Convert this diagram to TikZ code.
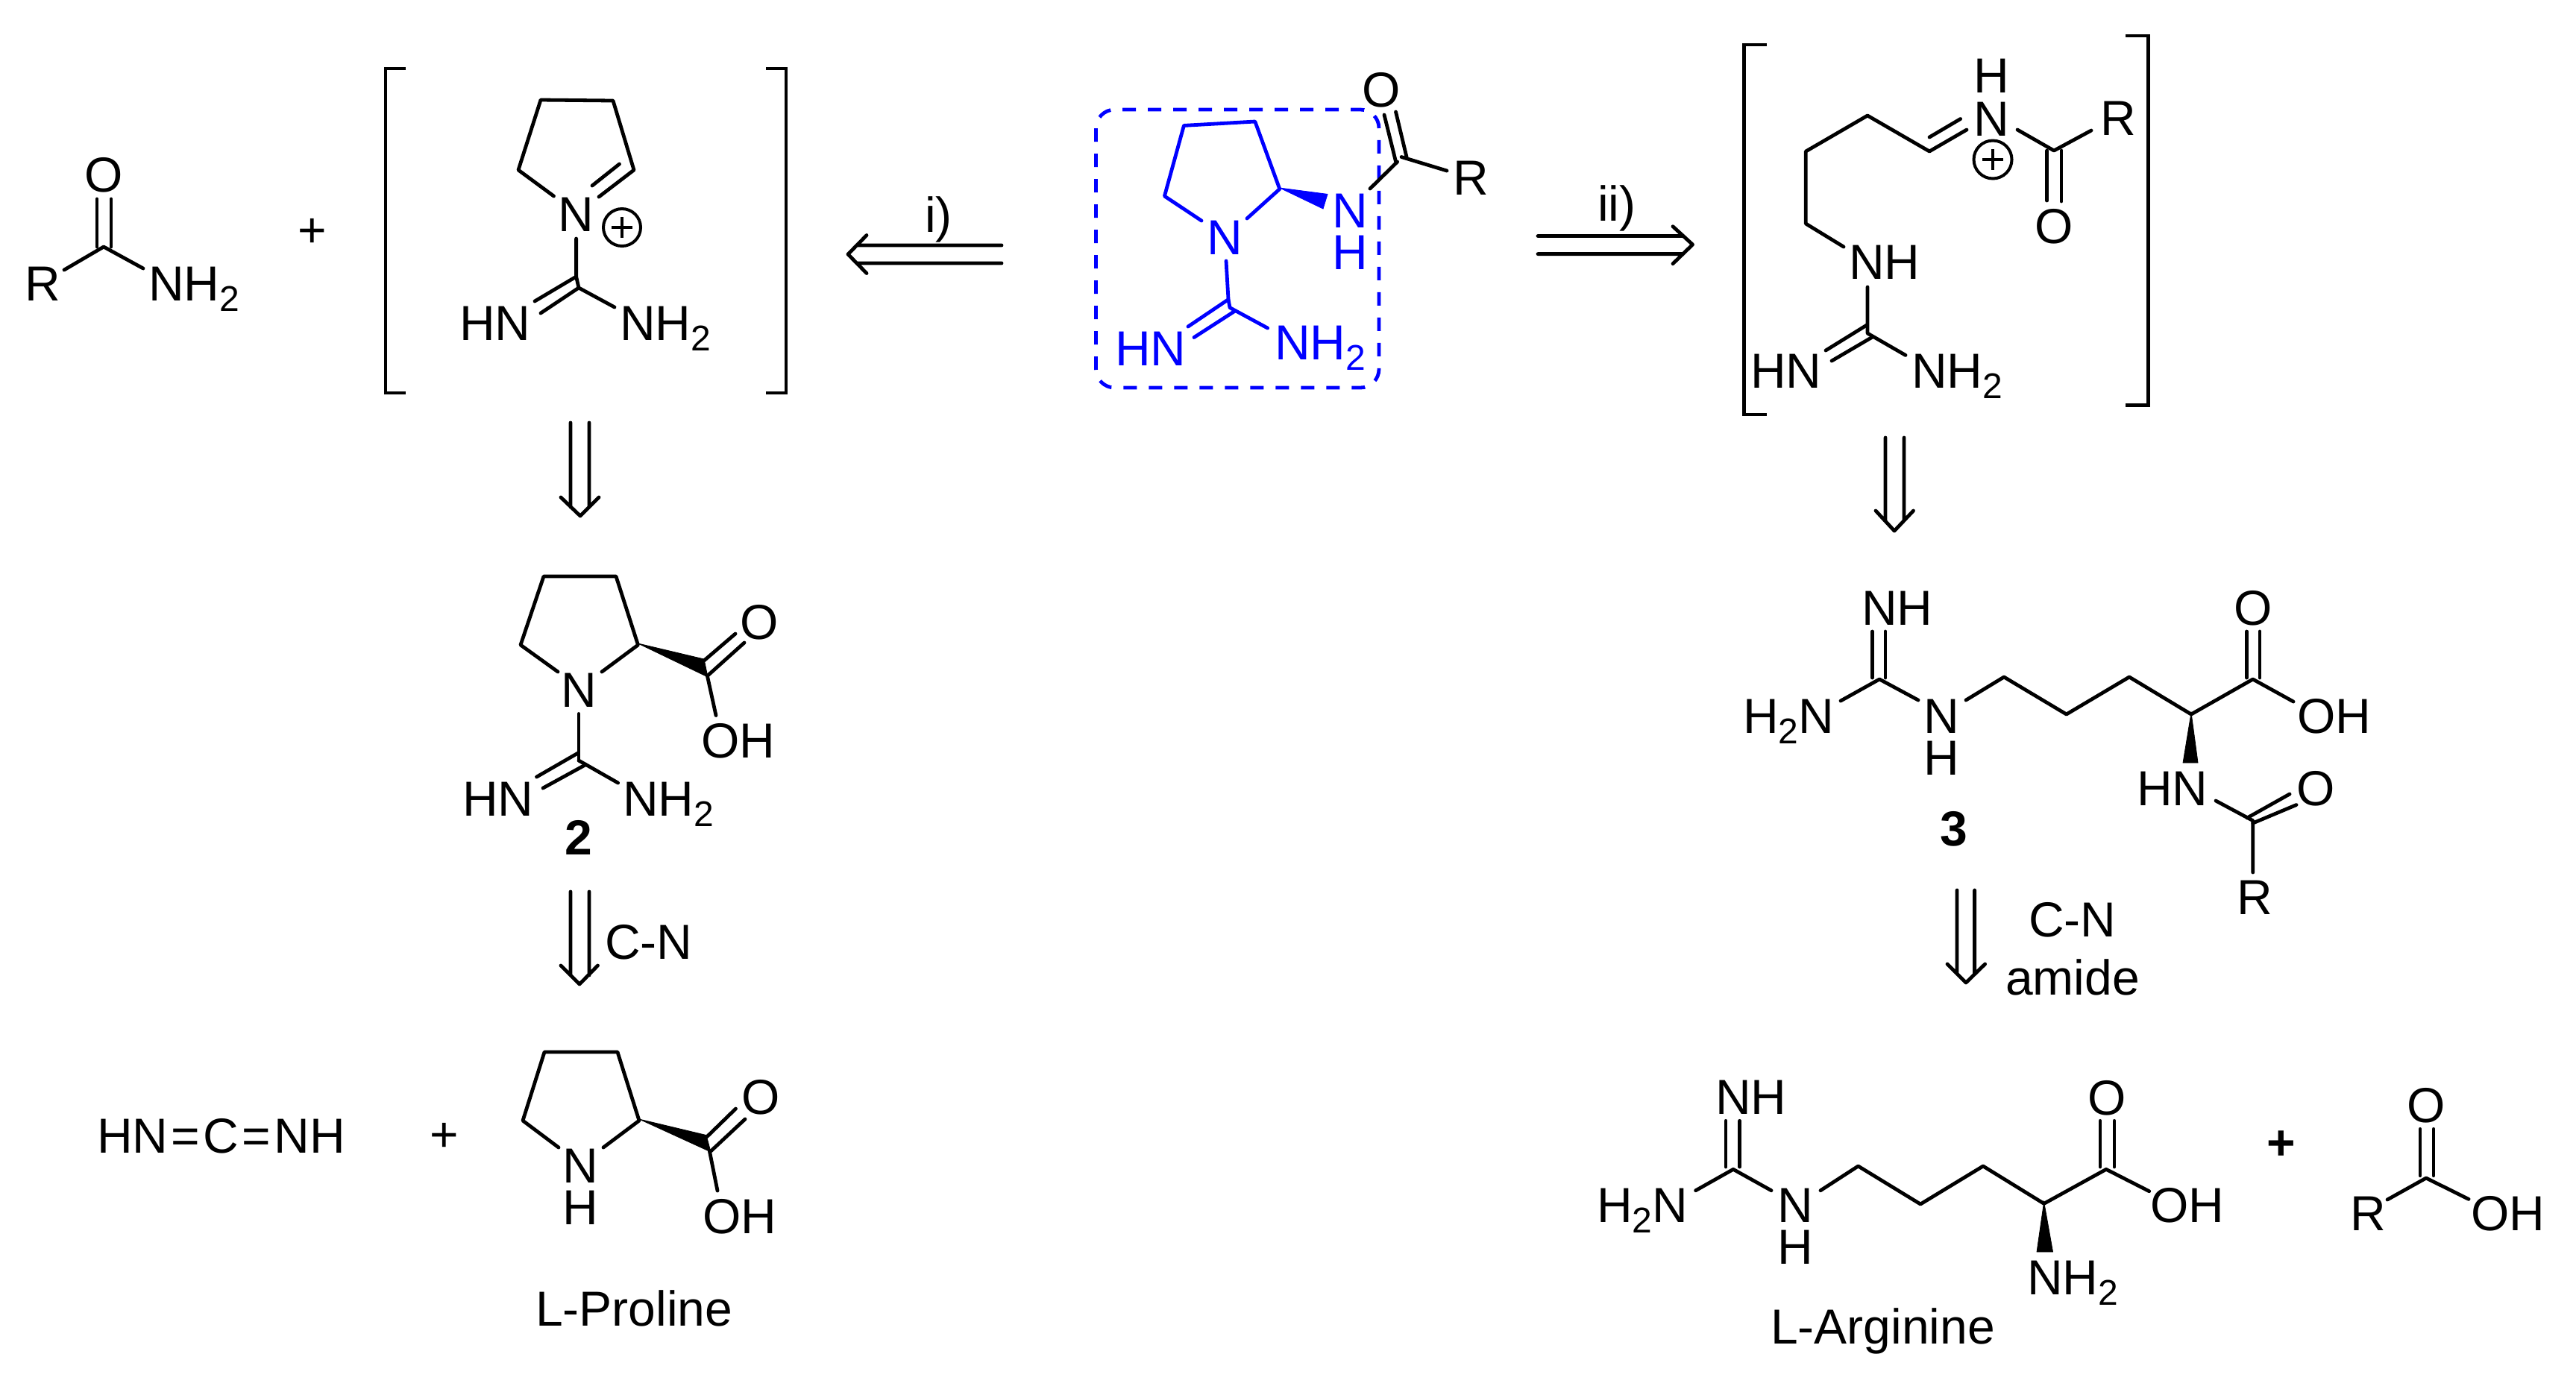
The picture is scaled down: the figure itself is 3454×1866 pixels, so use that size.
\documentclass[tikz,border=0pt]{standalone}
\usepackage{fontspec}
\setmainfont{Liberation Sans}
\newcommand{\chemsub}[1]{\raisebox{-3.6pt}{\fontsize{12}{12}\selectfont #1}}
\tikzset{
  bondline/.style={line width=1.2pt,line cap=round,line join=round},
  bondblue/.style={bondline,draw=blue},
  arrowline/.style={line width=1.2pt,line cap=round,line join=round},
  wedgeb/.style={fill=black,draw=black,line width=0.2pt},
  wedgeblue/.style={fill=blue,draw=blue,line width=0.2pt},
  chg/.style={line width=1pt},
  bracketline/.style={line width=1.2pt,line join=miter},
  tw/.style={anchor=base west,inner sep=0pt,outer sep=0pt,font=\fontsize{16.5}{18}\selectfont},
  tc/.style={anchor=base,inner sep=0pt,outer sep=0pt,font=\fontsize{16.5}{18}\selectfont},
  tcb/.style={anchor=base,inner sep=0pt,outer sep=0pt,font=\fontsize{16.5}{18}\selectfont\bfseries},
}
\begin{document}
\begin{tikzpicture}[x=0.25pt,y=-0.25pt]
\path[use as bounding box,fill=white] (0,0) rectangle (3454,1866);

% --- amide R-CO-NH2
\node[tc] (aO) at (139,257) {O};
\node[tc] (aR) at (57,403) {R};
\node[tw] (aN) at (199,403) {NH\chemsub{2}};
\draw[bondline] (130,267)--(130,331) (149,267)--(149,331);
\draw[bondline] (86,362)--(139,331)--(192,360);
\node[tc] (plusA) at (419,331) {+};

% --- bracket 1
\draw[bracketline] (544,92)--(517,92)--(517,527)--(544,527);
\draw[bracketline] (1027,92)--(1054,92)--(1054,527)--(1027,527);
\node[tc] (bN) at (772,310) {N};
\node[tw] (bHN) at (616,456) {HN};
\node[tw] (bNH) at (831,456) {NH\chemsub{2}};
\draw[bondline] (742.5,263)--(695,228)--(725,134)--(822,135)--(850,228)--(803,264);
\draw[bondline] (830.5,220)--(794,249);
\draw[chg] (834,305) circle (25);
\draw[chg] (820,305)--(848,305) (834,291)--(834,319);
\draw[bondline] (772.6,320)--(772.6,371)--(717,404);
\draw[bondline] (776,386)--(725,420);
\draw[bondline] (772.6,371)--(776,386)--(824,412);

% --- arrow down to 2
\draw[arrowline] (765,567)--(765,680) (790,567)--(790,680) (752,667)--(778,692)--(803,667);

% --- compound 2
\node[tc] (cN) at (776,948) {N};
\node[tc] (cO) at (1018,857) {O};
\node[tw] (cOH) at (940,1016) {OH};
\node[tw] (cHN) at (620,1094) {HN};
\node[tw] (cNH) at (835,1094) {NH\chemsub{2}};
\node[tcb] (c2) at (776,1146) {2};
\draw[bondline] (748,901)--(698,865)--(729,773)--(826,773)--(855.5,865)--(807,901);
\fill[wedgeb] (855.5,863)--(944,884)--(949,908)--cycle;
\draw[bondline] (944,886)--(986,850) (949,906)--(998,862);
\draw[bondline] (948.5,907)--(960,959.5);
\draw[bondline] (776,957.5)--(776,1020);
\draw[bondline] (775,1010)--(719.5,1042) (784.5,1026)--(728,1057);
\draw[bondline] (776,1020)--(828.6,1050);

% --- arrow C-N left
\draw[arrowline] (765,1196)--(765,1308) (790,1196)--(790,1308) (752,1295)--(777,1320)--(801.5,1295);
\node[tw] (lCN) at (811,1286) {C-N};

% --- HN=C=NH + proline
\node[tw] (carb) at (130,1546) {HN\kern1.1pt=\kern1.1pt C\kern1.1pt=\kern1.1pt NH};
\node[tc] (plusB) at (596,1544) {+};
\node[tc] (pN) at (778,1586) {N};
\node[tc] (pH) at (778,1642) {H};
\node[tc] (pO) at (1020,1494) {O};
\node[tw] (pOH) at (942,1654) {OH};
\node[tw] (pName) at (718,1778) {L-Proline};
\draw[bondline] (749,1539)--(701,1503)--(730,1411)--(828,1411)--(857,1503)--(809,1539);
\fill[wedgeb] (857,1501)--(947,1522.5)--(953,1545)--cycle;
\draw[bondline] (948,1524.5)--(986.5,1487) (953,1544)--(999,1501);
\draw[bondline] (951.4,1544)--(962,1597);

% --- arrow i)
\draw[arrowline] (1343,329)--(1149,329) (1343,353)--(1149,353) (1162,315.5)--(1137,341)--(1162,366.5);
\node[tw] (li) at (1240,311) {i)};

% --- central target, blue part
\draw[blue,line width=1.2pt,rounded corners=6.25pt,dash pattern=on 4.5pt off 4pt]
  (1469.5,147) rectangle (1849,520);
\node[tc,text=blue] (tN) at (1642,341) {N};
\node[tc,text=blue] (tN2) at (1810.5,305) {N};
\node[tc,text=blue] (tH2) at (1810.5,361) {H};
\node[tw,text=blue] (tHN) at (1495,490) {HN};
\node[tw,text=blue] (tNH) at (1709,482.5) {NH\chemsub{2}};
\draw[bondblue] (1611,296)--(1561.4,263)--(1587.4,168.4)--(1682.8,163)--(1715.8,253.5)--(1672,293);
\fill[wedgeblue] (1715.8,252)--(1780,260.4)--(1774,280)--cycle;
\draw[bondblue] (1644,350)--(1647,401.6)--(1593,438);
\draw[bondblue] (1656,417)--(1601,452.5);
\draw[bondblue] (1647,401.6)--(1649,412.6)--(1699.6,440);
% black part
\node[tc] (tO) at (1852.5,143) {O};
\node[tc] (tR) at (1972,261) {R};
\draw[bondline] (1871.5,150)--(1886,210.5) (1856,154)--(1871.5,216.6);
\draw[bondline] (1837,253)--(1873.6,217);
\draw[bondline] (1879,210.5)--(1940,229);

% --- arrow ii)
\draw[arrowline] (2062,316.5)--(2257,316.5) (2062,340.6)--(2256,340.6) (2243,303.7)--(2269.5,328)--(2243,353.7);
\node[tw] (lii) at (2142,296.5) {ii)};

% --- bracket 2
\draw[bracketline] (2369,60)--(2338.4,60)--(2338.4,556)--(2369,556);
\draw[bracketline] (2850,48)--(2880.5,48)--(2880.5,543.4)--(2850,543.4);
\node[tc] (dH) at (2670,124.6) {H};
\node[tc] (dN) at (2670,182) {N};
\node[tc] (dR) at (2840,181) {R};
\node[tc] (dO) at (2754,326) {O};
\node[tw] (dNH) at (2479,374) {NH};
\node[tw] (dHN) at (2347,520) {HN};
\node[tw] (dNH2) at (2563,520) {NH\chemsub{2}};
\draw[bondline] (2472,331)--(2421.3,300)--(2421.3,203)--(2504,155)--(2587,203)--(2637,174);
\draw[bondline] (2587,184)--(2628.6,159.5);
\draw[chg] (2672,214) circle (25.5);
\draw[chg] (2658,214)--(2686,214) (2672,200)--(2672,228);
\draw[bondline] (2705,174)--(2754,202)--(2804,175);
\draw[bondline] (2744.7,202)--(2744.7,269) (2764,202)--(2764,270);
\draw[bondline] (2504,385)--(2504,447)--(2555,476.4);
\draw[bondline] (2503,436)--(2448,470) (2510.6,452)--(2456,484);

% --- arrow to 3
\draw[arrowline] (2528,587)--(2528,698) (2553,587)--(2553,698) (2515,685)--(2540,712)--(2565.5,685);

% --- compound 3
\node[tw] (eNH) at (2496,838.5) {NH};
\node[tw] (eH2N) at (2337,983) {H\chemsub{2}N};
\node[tc] (eN) at (2603,983) {N};
\node[tc] (eH) at (2603,1039) {H};
\node[tc] (eO) at (3020.7,838) {O};
\node[tw] (eOH) at (3080,983) {OH};
\node[tw] (eHN) at (2865,1080) {HN};
\node[tc] (eO2) at (3105,1080) {O};
\node[tc] (eR) at (3023,1226) {R};
\node[tcb] (e3) at (2620,1134) {3};
\draw[bondline] (2510.5,847)--(2510.5,909) (2528,847)--(2528,909);
\draw[bondline] (2468,940)--(2520,911)--(2572,939);
\draw[bondline] (2636,939)--(2687,908)--(2770.7,958)--(2855,908)--(2938,958)--(3020.7,911)--(3075,941);
\draw[bondline] (3012.4,847)--(3012.4,909) (3030,847)--(3030,909);
\fill[wedgeb] (2938,956)--(2927,1023)--(2947,1023)--cycle;
\draw[bondline] (2971,1074)--(3020.7,1100.6)--(3020.7,1170);
\draw[bondline] (3013,1097)--(3070,1065) (3020.7,1104)--(3079,1079.5);

% --- arrow C-N amide
\draw[arrowline] (2624,1194)--(2624,1306) (2647.6,1194)--(2647.6,1306) (2611,1293)--(2636,1318)--(2661.6,1293);
\node[tw] (rCN) at (2720,1256) {C-N};
\node[tw] (rAm) at (2689,1334) {amide};

% --- L-Arginine
\node[tw] (fNH) at (2300,1494) {NH};
\node[tw] (fH2N) at (2141,1639) {H\chemsub{2}N};
\node[tc] (fN) at (2407,1639) {N};
\node[tc] (fH) at (2407,1695) {H};
\node[tc] (fO) at (2825,1495) {O};
\node[tw] (fOH) at (2883,1639) {OH};
\node[tw] (fNH2) at (2718,1736) {NH\chemsub{2}};
\node[tw] (fName) at (2374,1802) {L-Arginine};
\draw[bondline] (2314,1503.3)--(2314,1565) (2332.7,1503.3)--(2332.7,1565);
\draw[bondline] (2273.6,1596.7)--(2324,1568.3)--(2375,1596.7);
\draw[bondline] (2441,1596.7)--(2491.5,1564)--(2575,1615)--(2659,1564)--(2740.6,1614.3)--(2824,1568.3)--(2881.7,1597.7);
\draw[bondline] (2816,1503.3)--(2816,1565) (2835,1503.3)--(2835,1565);
\fill[wedgeb] (2740.6,1612)--(2731,1679)--(2752.5,1679)--cycle;

% --- plus, RCOOH
\node[tcb] (plusC) at (3059,1555) {+};
\node[tc] (gO) at (3253,1505) {O};
\node[tc] (gR) at (3175,1650) {R};
\node[tw] (gOH) at (3313,1650) {OH};
\draw[bondline] (3245,1514.3)--(3245,1576.7) (3263,1514.3)--(3263,1576.7);
\draw[bondline] (3201,1609)--(3253,1580)--(3310,1608.3);
\end{tikzpicture}
\end{document}
